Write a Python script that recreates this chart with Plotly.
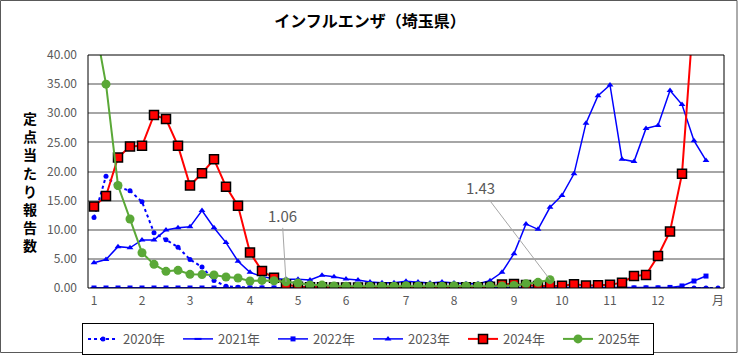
import plotly.graph_objects as go

# ---- data (weekly, per-sentinel reports) ----
y2020 = [12.1, 19.2, 17.3, 16.7, 14.8, 9.5, 8.3, 7.0, 4.9, 3.6,
         1.3, 0.3, 0.15, 0.05, 0.02, 0.01, 0.01, 0.0, 0.0, 0.0,
         0.0, 0.0, 0.0, 0.0, 0.0, 0.0, 0.0, 0.0, 0.0, 0.0,
         0.0, 0.0, 0.0, 0.0, 0.0, 0.0, 0.0, 0.0, 0.0, 0.0,
         0.0, 0.0, 0.0, 0.0, 0.0, 0.0, 0.0, 0.0, 0.0, 0.0,
         0.0, 0.0, 0.0]
y2021 = [0.01, 0.0, 0.0, 0.0, 0.0, 0.0, 0.0, 0.0, 0.0, 0.0,
         0.0, 0.0, 0.0, 0.0, 0.0, 0.0, 0.0, 0.0, 0.0, 0.0,
         0.0, 0.0, 0.0, 0.0, 0.0, 0.0, 0.0, 0.0, 0.0, 0.0,
         0.0, 0.0, 0.0, 0.0, 0.0, 0.0, 0.0, 0.0, 0.0, 0.0,
         0.0, 0.0, 0.0, 0.0, 0.0, 0.0, 0.0, 0.0, 0.0, 0.0,
         0.0, 0.01]
y2022 = [0.0, 0.0, 0.0, 0.0, 0.0, 0.0, 0.0, 0.0, 0.0, 0.0,
         0.0, 0.0, 0.0, 0.0, 0.0, 0.0, 0.0, 0.0, 0.0, 0.0,
         0.0, 0.0, 0.0, 0.0, 0.0, 0.0, 0.0, 0.0, 0.0, 0.0,
         0.0, 0.0, 0.0, 0.0, 0.0, 0.01, 0.0, 0.01, 0.01, 0.01,
         0.01, 0.01, 0.01, 0.02, 0.02, 0.02, 0.03, 0.03, 0.1, 0.35,
         1.2, 2.05]
y2023 = [4.35, 4.9, 7.1, 6.9, 8.25, 8.25, 9.95, 10.35, 10.5, 13.3,
         10.35, 7.8, 4.6, 2.7, 1.95, 1.6, 1.5, 1.5, 1.37, 2.2,
         1.95, 1.55, 1.37, 1.03, 0.92, 0.92, 1.14, 1.03, 0.86, 1.03,
         0.86, 0.74, 0.74, 1.26, 2.7, 5.9, 11.0, 10.07, 13.85, 15.9,
         19.6, 28.3, 33.0, 34.85, 22.1, 21.7, 27.4, 27.9, 33.9, 31.5,
         25.3, 21.9]
y2024 = [14.0, 15.8, 22.4, 24.3, 24.4, 29.7, 29.0, 24.4, 17.6, 19.7,
         22.1, 17.4, 14.1, 6.1, 2.9, 1.78, 0.6, 0.23, 0.15, 0.12,
         0.1, 0.1, 0.08, 0.08, 0.1, 0.1, 0.12, 0.12, 0.1, 0.12,
         0.1, 0.12, 0.15, 0.2, 0.6, 0.7, 0.5, 0.34, 0.35, 0.4,
         0.63, 0.42, 0.48, 0.55, 0.92, 2.08, 2.25, 5.5, 9.7, 19.6,
         48.0]
y2025 = [46.3, 35.0, 17.6, 11.85, 6.06, 4.06, 2.86, 3.03, 2.35, 2.3,
         2.23, 1.89, 1.72, 1.2, 1.3, 1.25, 1.06, 0.86, 0.5, 0.5,
         0.35, 0.3, 0.3, 0.3, 0.3, 0.3, 0.4, 0.35, 0.35, 0.3,
         0.4, 0.35, 0.35, 0.35, 0.35, 0.45, 0.75, 0.97, 1.43]

tick_weeks = [1, 5, 9, 14, 18, 22, 27, 31, 36, 40, 44, 48, 53]
tick_labels = ["1", "2", "3", "4", "5", "6", "7", "8", "9", "10", "11", "12", "月"]
y_ticks = [0, 5, 10, 15, 20, 25, 30, 35, 40]

title_text = "インフルエンザ（埼玉県）"
ytitle_text = "定点当たり報告数"
callouts = [(17, 1.06, -4, -66), (39, 1.43, -70, -92)]

FONT = "Noto Sans CJK JP, Noto Sans, sans-serif"
BLUE = "#0000ff"
RED = "#ff0000"
GREEN = "#5aa837"
GRAY_TXT = "#595959"

fig = go.Figure()

def wk(vals):
    return list(range(1, len(vals) + 1))

fig.add_trace(go.Scatter(x=wk(y2020), y=y2020, name="2020年", mode="lines+markers",
                         line=dict(color=BLUE, width=2, dash="dot"),
                         marker=dict(symbol="circle", size=5, color=BLUE)))
fig.add_trace(go.Scatter(x=wk(y2021), y=y2021, name="2021年", mode="lines+markers",
                         line=dict(color=BLUE, width=1.5),
                         marker=dict(symbol="line-ew", size=5, color=BLUE,
                                     line=dict(color=BLUE, width=2))))
fig.add_trace(go.Scatter(x=wk(y2022), y=y2022, name="2022年", mode="lines+markers",
                         line=dict(color=BLUE, width=1.5),
                         marker=dict(symbol="square", size=5, color=BLUE)))
fig.add_trace(go.Scatter(x=wk(y2023), y=y2023, name="2023年", mode="lines+markers",
                         line=dict(color=BLUE, width=1.5),
                         marker=dict(symbol="triangle-up", size=6, color=BLUE)))
fig.add_trace(go.Scatter(x=wk(y2024), y=y2024, name="2024年", mode="lines+markers",
                         line=dict(color=RED, width=2),
                         marker=dict(symbol="square", size=9, color=RED,
                                     line=dict(color="#000000", width=1.5))))
fig.add_trace(go.Scatter(x=wk(y2025), y=y2025, name="2025年", mode="lines+markers",
                         line=dict(color=GREEN, width=2),
                         marker=dict(symbol="circle", size=9, color=GREEN)))

annotations = []
for (w, v, ax, ay) in callouts:
    annotations.append(dict(x=w, y=v, xref="x", yref="y", text=f"{v:.2f}",
                            showarrow=True, arrowhead=0, arrowwidth=1,
                            arrowcolor="#a6a6a6", ax=ax, ay=ay, standoff=0,
                            font=dict(family=FONT, size=15, color=GRAY_TXT)))
annotations.append(dict(x=-0.091, y=0.455, xref="paper", yref="paper",
                        text="<br>".join(list(ytitle_text)), showarrow=False,
                        font=dict(family=FONT, size=14, color="#000000", weight="bold"),
                        xanchor="center", yanchor="middle"))

fig.update_layout(
    width=740, height=355,
    margin=dict(l=88, r=16, t=55, b=67, autoexpand=False),
    paper_bgcolor="white", plot_bgcolor="white",
    font=dict(family=FONT, size=12, color=GRAY_TXT),
    title=dict(text=title_text, x=0.5, xref="container", y=1 - 21 / 355,
               yref="container", xanchor="center", yanchor="middle",
               font=dict(family=FONT, size=16, color="#000000", weight="bold")),
    xaxis=dict(range=[0.5, 53.5], tickmode="array", tickvals=tick_weeks,
               ticktext=tick_labels, showgrid=False, zeroline=False,
               showline=False, ticks="", ticklabelstandoff=4, automargin=False,
               tickfont=dict(family=FONT, size=12, color=GRAY_TXT)),
    yaxis=dict(range=[0, 40], tickmode="array", tickvals=y_ticks,
               tickformat=".2f", showgrid=True, gridcolor="#a6a6a6",
               gridwidth=1.5, zeroline=False, showline=False, ticks="",
               ticklabelstandoff=10, automargin=False,
               tickfont=dict(family=FONT, size=12, color=GRAY_TXT)),
    legend=dict(orientation="h", x=-0.0094, xanchor="left", y=-0.15,
                yanchor="top", bordercolor="#000000", borderwidth=1,
                font=dict(family=FONT, size=13, color=GRAY_TXT),
                entrywidth=50, entrywidthmode="pixels",
                bgcolor="white", tracegroupgap=0),
    annotations=annotations,
    shapes=[
        dict(type="rect", xref="paper", yref="paper", x0=0, x1=1, y0=0, y1=1,
             line=dict(color="#000000", width=1), layer="above"),
        dict(type="rect", xref="paper", yref="paper",
             x0=(0.5 - 88) / 636, x1=(737 - 88) / 636,
             y0=(288 - 352.5) / 233, y1=(288 - 0.5) / 233,
             line=dict(color="#595959", width=1), layer="below"),
    ],
    showlegend=True,
)

fig.write_html("out.html", config={"displayModeBar": False},
               post_script="document.body.style.margin='0px';document.body.style.overflow='hidden';")
